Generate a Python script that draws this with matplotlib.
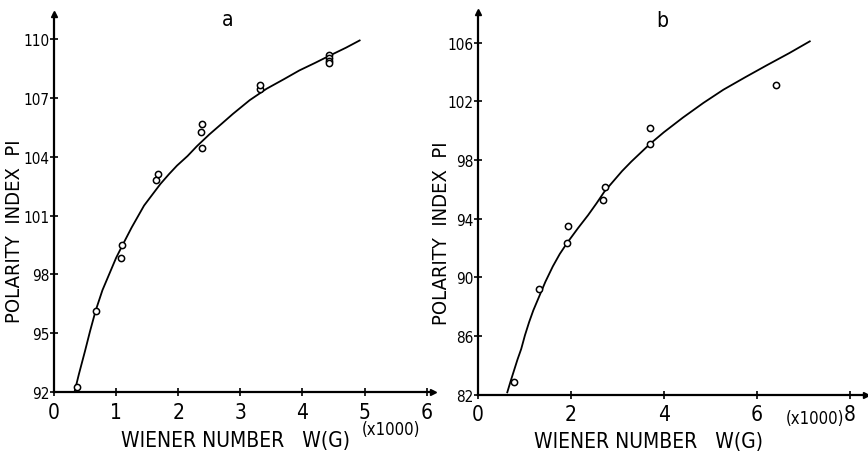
import matplotlib
matplotlib.use('Agg')
import matplotlib.pyplot as plt
from matplotlib import font_manager as fm

# the lettering in the original is tall and narrow: use a condensed face if one is installed
narrow = None
for fam in ['DejaVu Sans', 'Liberation Sans Narrow', 'Noto Sans', 'Open Sans', 'Roboto']:
    for f in fm.fontManager.ttflist:
        if f.name == fam and f.style == 'normal' and f.weight in (400, 'normal', 'regular') \
                and ('condensed' in str(f.stretch) or 'Narrow' in f.name):
            narrow = f
            break
    if narrow:
        break
if narrow:
    plt.rcParams['font.family'] = [narrow.name]
    plt.rcParams['font.stretch'] = narrow.stretch
    sz = 1.0
else:
    plt.rcParams['font.family'] = ['Roboto', 'DejaVu Sans']
    sz = 0.85

# panel a: measured points (W in thousands)
wa = [0.365, 0.67, 1.10, 1.08, 1.635, 1.68, 2.37, 2.39, 2.38, 3.31, 3.31,
      4.43, 4.43, 4.43, 4.43]
pia = [92.27, 96.15, 99.51, 98.83, 102.80, 103.14, 105.27, 105.68, 104.45,
       107.45, 107.70, 109.20, 109.05, 108.90, 108.80]
# panel a: fitted curve
wa_fit = [0.33, 0.40, 0.50, 0.58, 0.67, 0.78, 0.90, 1.00, 1.10, 1.25, 1.45,
          1.60, 1.715, 1.85, 1.98, 2.15, 2.30, 2.50, 2.70, 2.88, 3.15, 3.42,
          3.70, 3.95, 4.20, 4.44, 4.70, 4.92]
pia_fit = [92.0, 92.9, 94.1, 95.1, 96.15, 97.2, 98.1, 98.85, 99.48, 100.4,
           101.52, 102.15, 102.63, 103.12, 103.56, 104.05, 104.55, 105.15,
           105.7, 106.2, 106.9, 107.48, 107.97, 108.42, 108.8, 109.18,
           109.58, 109.95]

# panel b
wb = [0.78, 1.32, 1.94, 1.92, 2.74, 2.70, 3.71, 3.71, 6.41]
pib = [82.85, 89.21, 93.49, 92.36, 96.16, 95.29, 100.2, 99.09, 103.14]
wb_fit = [0.63, 0.70, 0.78, 0.85, 0.93, 1.01, 1.10, 1.19, 1.29, 1.45, 1.61,
          1.76, 1.92, 2.15, 2.37, 2.55, 2.72, 2.91, 3.10, 3.30, 3.50, 3.70,
          4.00, 4.41, 4.85, 5.28, 5.75, 6.21, 6.70, 7.14]
pib_fit = [82.16, 82.9, 83.7, 84.4, 85.12, 86.05, 86.95, 87.75, 88.5, 89.7,
           90.75, 91.6, 92.36, 93.35, 94.25, 95.05, 95.85, 96.55, 97.25,
           97.9, 98.5, 99.1, 99.9, 100.9, 101.9, 102.8, 103.65, 104.46,
           105.3, 106.1]

xticks_a = [0, 1, 2, 3, 4, 5, 6]
yticks_a = [92, 95, 98, 101, 104, 107, 110]
xticks_b = [0, 2, 4, 6, 8]
yticks_b = [82, 86, 90, 94, 98, 102, 106]

fig = plt.figure(figsize=(8.68, 4.52), dpi=100)
ax1 = fig.add_axes([0.0622, 0.1305, 0.4366, 0.8363])
ax2 = fig.add_axes([0.5507, 0.1246, 0.4470, 0.8466])


def style(ax, xt, yt, xlim, ylim):
    ax.set_xlim(*xlim)
    ax.set_ylim(*ylim)
    for s in ['top', 'right']:
        ax.spines[s].set_visible(False)
    for s in ['left', 'bottom']:
        ax.spines[s].set_linewidth(1.6)
    ax.set_xticks(xt)
    ax.set_yticks(yt)
    ax.tick_params(axis='x', direction='inout', length=6, width=1.2,
                   labelsize=15 * sz, pad=4)
    ax.tick_params(axis='y', direction='inout', length=6, width=1.2,
                   labelsize=11 * sz, pad=0)
    # arrow heads at the axis ends
    ax.plot([0], [1], marker='^', color='k', ms=4, transform=ax.transAxes,
            clip_on=False)
    ax.plot([1], [0], marker='>', color='k', ms=4, transform=ax.transAxes,
            clip_on=False)


style(ax1, xticks_a, yticks_a, (0, 6.1), (92, 111.3))
style(ax2, xticks_b, yticks_b, (0, 8.35), (82, 108.1))

ax1.plot(wa_fit, pia_fit, color='k', lw=1.3)
ax1.plot(wa, pia, 'o', mfc='white', mec='k', ms=4.5, mew=1.1)
ax2.plot(wb_fit, pib_fit, color='k', lw=1.3)
ax2.plot(wb, pib, 'o', mfc='white', mec='k', ms=4.5, mew=1.1)

fig.text(228 / 868, 1 - 20 / 452, 'a', fontsize=15, ha='center', va='center')
fig.text(662 / 868, 1 - 21 / 452, 'b', fontsize=15, ha='center', va='center')

for xc, yc in [(15, 231), (442, 233)]:
    fig.text(xc / 868, 1 - yc / 452, 'POLARITY  INDEX  PI', fontsize=14.5 * sz,
             rotation=90, ha='center', va='center')
for xc, yc in [(235, 441), (648, 442)]:
    fig.text(xc / 868, 1 - yc / 452, 'WIENER NUMBER   W(G)', fontsize=15 * sz,
             ha='center', va='center')
for xc, yc in [(391, 430), (815, 419)]:
    fig.text(xc / 868, 1 - yc / 452, '(x1000)', fontsize=12 * sz,
             ha='center', va='center')

fig.savefig('out.png', dpi=100)
